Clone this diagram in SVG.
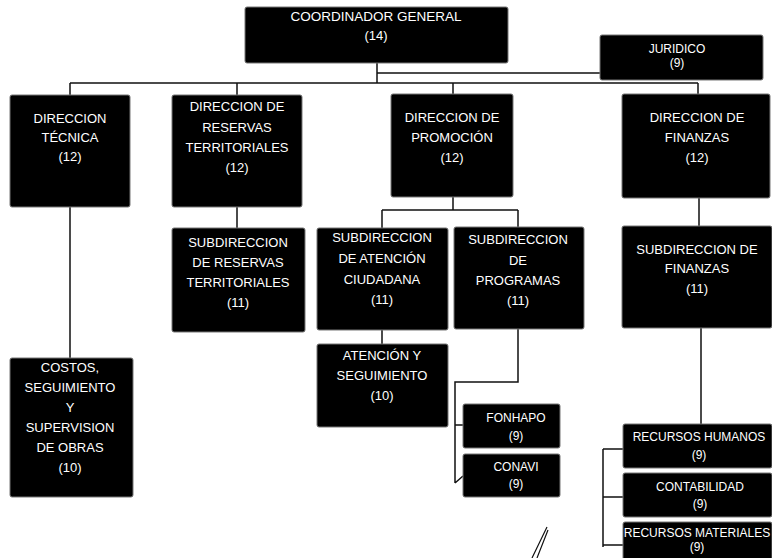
<svg xmlns="http://www.w3.org/2000/svg" width="772" height="558" viewBox="0 0 772 558">
<style>
.box{fill:#000;stroke:#777;stroke-width:1}
.t{font-family:"Liberation Sans",Arial,sans-serif;font-size:13px;fill:#fff;text-anchor:middle}
.s{font-size:12px}
.c{stroke:#111;stroke-width:1.5;fill:none}
</style>
<rect width="772" height="558" fill="#fff"/>
<g id="connectors">
<path class="c" d="M377,63V83M377,73H600M70,83H698M70,83V95M237,83V95M453,83V94M698,83V94"/>
<path class="c" d="M70,207V358M237,207V228M453,197V210M382,210H518M382,210V228M518,210V227M699,198V226"/>
<path class="c" d="M382,330V344M518,329V382H455V483M455,425H463M455,483L463,476"/>
<path class="c" d="M701,328V424M603,449V547M603,449H623M603,497H623M603,545H623"/>
</g>
<g id="coordinador"><rect class="box" x="245" y="7" width="263" height="56" rx="2"/><text class="t" x="376" y="21" style="font-size:13.5px">COORDINADOR GENERAL</text><text class="t" x="376" y="40">(14)</text></g>
<g id="juridico"><rect class="box" x="600" y="35" width="163" height="45" rx="2"/><text class="t s" x="677" y="53">JURIDICO</text><text class="t s" x="677" y="67">(9)</text></g>
<g id="dir-tecnica"><rect class="box" x="10" y="95" width="120" height="112" rx="2"/><text class="t" x="70" y="123">DIRECCION</text><text class="t" x="70" y="142">TÉCNICA</text><text class="t" x="70" y="161">(12)</text></g>
<g id="dir-reservas"><rect class="box" x="172" y="95" width="130" height="112" rx="2"/><text class="t" x="237" y="111">DIRECCION DE</text><text class="t" x="237" y="132">RESERVAS</text><text class="t" x="237" y="152">TERRITORIALES</text><text class="t" x="237" y="172">(12)</text></g>
<g id="dir-promocion"><rect class="box" x="391" y="94" width="122" height="103" rx="2"/><text class="t" x="452" y="122">DIRECCION DE</text><text class="t" x="452" y="142">PROMOCIÓN</text><text class="t" x="452" y="162">(12)</text></g>
<g id="dir-finanzas"><rect class="box" x="622" y="94" width="148" height="104" rx="2"/><text class="t" x="697" y="122">DIRECCION DE</text><text class="t" x="697" y="142">FINANZAS</text><text class="t" x="697" y="162">(12)</text></g>
<g id="sub-reservas"><rect class="box" x="172" y="228" width="133" height="104" rx="2"/><text class="t" x="238" y="247">SUBDIRECCION</text><text class="t" x="238" y="267">DE RESERVAS</text><text class="t" x="238" y="287">TERRITORIALES</text><text class="t" x="238" y="307">(11)</text></g>
<g id="sub-atencion"><rect class="box" x="317" y="228" width="131" height="102" rx="2"/><text class="t" x="382" y="242">SUBDIRECCION</text><text class="t" x="382" y="263">DE ATENCIÓN</text><text class="t" x="382" y="284">CIUDADANA</text><text class="t" x="382" y="304">(11)</text></g>
<g id="sub-programas"><rect class="box" x="454" y="227" width="130" height="102" rx="2"/><text class="t" x="518" y="244">SUBDIRECCION</text><text class="t" x="518" y="265">DE</text><text class="t" x="518" y="285">PROGRAMAS</text><text class="t" x="518" y="305">(11)</text></g>
<g id="sub-finanzas"><rect class="box" x="622" y="226" width="150" height="102" rx="2"/><text class="t" x="697" y="254">SUBDIRECCION DE</text><text class="t" x="697" y="273">FINANZAS</text><text class="t" x="697" y="293">(11)</text></g>
<g id="costos"><rect class="box" x="10" y="358" width="123" height="139" rx="2"/><text class="t" x="70" y="372">COSTOS,</text><text class="t" x="70" y="392">SEGUIMIENTO</text><text class="t" x="70" y="412">Y</text><text class="t" x="70" y="432">SUPERVISION</text><text class="t" x="70" y="452">DE OBRAS</text><text class="t" x="70" y="472">(10)</text></g>
<g id="atencion-seguimiento"><rect class="box" x="317" y="344" width="131" height="83" rx="2"/><text class="t" x="382" y="360">ATENCIÓN Y</text><text class="t" x="382" y="380">SEGUIMIENTO</text><text class="t" x="382" y="400">(10)</text></g>
<g id="fonhapo"><rect class="box" x="463" y="404" width="97" height="44" rx="2"/><text class="t s" x="516" y="422">FONHAPO</text><text class="t s" x="516" y="440">(9)</text></g>
<g id="conavi"><rect class="box" x="463" y="454" width="97" height="43" rx="2"/><text class="t s" x="516" y="471">CONAVI</text><text class="t s" x="516" y="488">(9)</text></g>
<g id="rec-humanos"><rect class="box" x="623" y="424" width="149" height="44" rx="2"/><text class="t s" x="699" y="441">RECURSOS HUMANOS</text><text class="t s" x="699" y="459">(9)</text></g>
<g id="contabilidad"><rect class="box" x="623" y="473" width="149" height="44" rx="2"/><text class="t s" x="700" y="491">CONTABILIDAD</text><text class="t s" x="700" y="508">(9)</text></g>
<g id="rec-materiales"><rect class="box" x="623" y="522" width="149" height="40" rx="2"/><text class="t s" x="697" y="537">RECURSOS MATERIALES</text><text class="t s" x="697" y="551">(9)</text></g>
<path d="M547,527L532,558M548,530L537,558" stroke="#111" stroke-width="1.2" fill="none"/>
</svg>
